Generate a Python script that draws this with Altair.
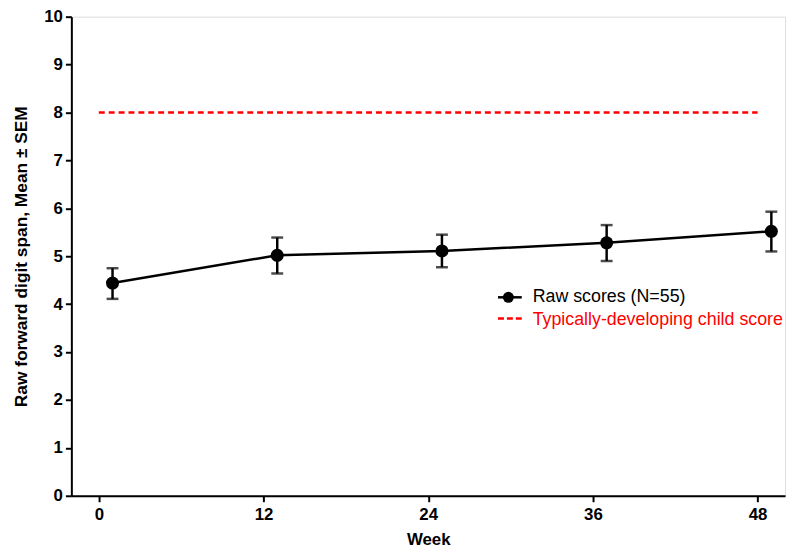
import altair as alt
import pandas as pd

weeks = [1, 13, 25, 37, 49]
means = [4.44, 5.02, 5.11, 5.28, 5.52]
lower = [4.11, 4.64, 4.77, 4.90, 5.10]
upper = [4.75, 5.39, 5.45, 5.65, 5.93]

ref_x = [0, 48]
ref_y = [8, 8]

legend_labels = ["Raw scores (N=55)", "Typically-developing child score"]
legend_colors = ["#000000", "#ff0000"]

FONT = "Liberation Sans"

df = pd.DataFrame({"week": weeks, "mean": means, "lo": lower, "hi": upper})
ref = pd.DataFrame({"week": ref_x, "score": ref_y})
leg = pd.DataFrame({"label": legend_labels, "color": legend_colors})

xscale = alt.Scale(domain=[-2, 50], nice=False, zero=False)
yscale = alt.Scale(domain=[0, 10], nice=False)

xaxis = alt.Axis(values=[0, 12, 24, 36, 48], title="Week", grid=False,
                 domainColor="black", domainWidth=2, tickColor="black", tickWidth=2,
                 tickSize=6, labelFont=FONT, labelFontSize=17, labelFontWeight="bold",
                 labelColor="black", labelPadding=5, titleFont=FONT, titleFontSize=17,
                 titleFontWeight="bold", titleColor="black", titleBaseline="alphabetic",
                 titleY=49, labelFlush=False)
yaxis = alt.Axis(values=list(range(0, 11)), title="Raw forward digit span, Mean ± SEM",
                 grid=False, domainColor="black", domainWidth=2, tickColor="black",
                 tickWidth=2, tickSize=6, labelFont=FONT, labelFontSize=17,
                 labelFontWeight="bold", labelColor="black", labelPadding=3,
                 titleFont=FONT, titleFontSize=17.5, titleFontWeight="bold",
                 titleColor="black", titleAngle=-90, titleBaseline="alphabetic",
                 titleAlign="center", titleX=-45, titleY=242, labelFlush=False)

X = alt.X("week:Q", scale=xscale, axis=xaxis)
base = alt.Chart(df)

refline = alt.Chart(ref).mark_line(color="#ff0000", strokeWidth=2.5, strokeDash=[6, 4]).encode(
    x=X, y=alt.Y("score:Q", scale=yscale, axis=yaxis))

line = base.mark_line(color="black", strokeWidth=2.5).encode(
    x=X, y=alt.Y("mean:Q", scale=yscale, axis=yaxis))

bars = base.mark_rule(color="black", strokeWidth=2.5).encode(
    x=X, y=alt.Y("lo:Q", scale=yscale, axis=yaxis), y2="hi:Q")

cap_lo = base.mark_tick(color="black", orient="horizontal", size=12, thickness=2.5).encode(
    x=X, y=alt.Y("lo:Q", scale=yscale, axis=yaxis))
cap_hi = base.mark_tick(color="black", orient="horizontal", size=12, thickness=2.5).encode(
    x=X, y=alt.Y("hi:Q", scale=yscale, axis=yaxis))

pts = base.mark_point(filled=True, color="black", opacity=1, size=175, shape="circle").encode(
    x=X, y=alt.Y("mean:Q", scale=yscale, axis=yaxis))

# manual legend
leg_line = alt.Chart(leg.iloc[[0]]).mark_rule(color="black", strokeWidth=2.5).encode(
    x=alt.value(431), x2=alt.value(455), y=alt.value(283.5))
leg_pt = alt.Chart(leg.iloc[[0]]).mark_point(filled=True, color="black", opacity=1, size=125).encode(
    x=alt.value(441.5), y=alt.value(283.5))
leg_dash = alt.Chart(leg.iloc[[1]]).mark_rule(color="#ff0000", strokeWidth=2.5, strokeDash=[6, 3]).encode(
    x=alt.value(431), x2=alt.value(455), y=alt.value(305))
leg_txt1 = alt.Chart(leg.iloc[[0]]).mark_text(
    align="left", baseline="middle", font=FONT, fontSize=18, color=legend_colors[0]
).encode(x=alt.value(466), y=alt.value(283.5), text="label:N")
leg_txt2 = alt.Chart(leg.iloc[[1]]).mark_text(
    align="left", baseline="middle", font=FONT, fontSize=18, color=legend_colors[1]
).encode(x=alt.value(466), y=alt.value(306.5), text="label:N")

chart = alt.layer(refline, line, bars, cap_lo, cap_hi, pts,
                  leg_line, leg_pt, leg_dash, leg_txt1, leg_txt2).properties(
    width=721, height=484,
    autosize=alt.AutoSizeParams(type="none"),
    padding={"left": 64, "top": 6, "right": 7, "bottom": 52},
).configure_view(stroke=None).configure(background="white")

chart.save("out.html", embed_options={"renderer": "svg", "actions": False})
